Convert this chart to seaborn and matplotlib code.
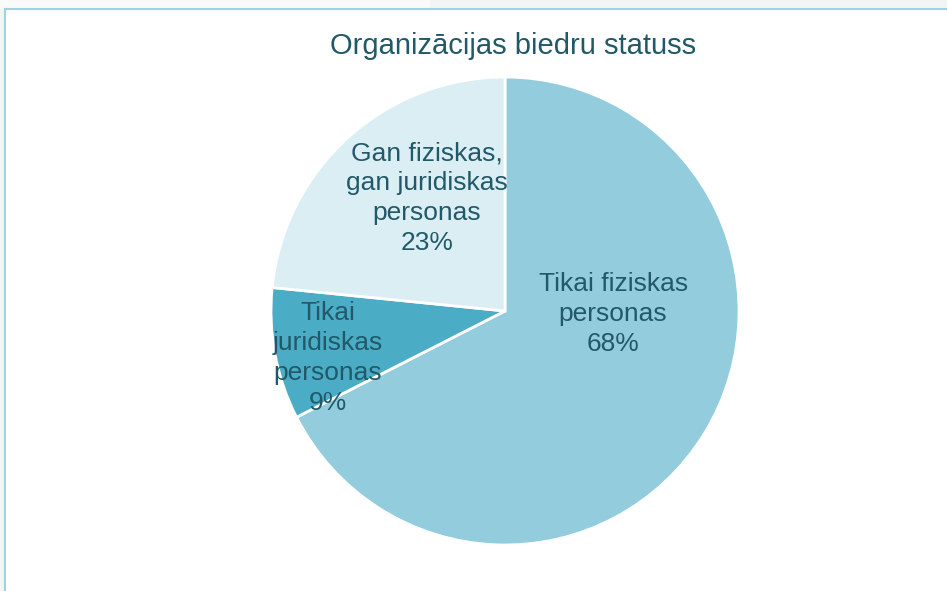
import numpy as np
import matplotlib
matplotlib.use("Agg")
import matplotlib.pyplot as plt
import seaborn as sns
from matplotlib.patches import Rectangle

# Data
labels = ["Tikai fiziskas\npersonas", "Tikai\njuridiskas\npersonas", "Gan fiziskas,\ngan juridiskas\npersonas"]
shares = [67.5, 9.1, 23.4]
shown_pct = ["68%", "9%", "23%"]
colors = ["#93CDDD", "#4BACC6", "#DBEEF4"]

sns.set_theme(style="white")
plt.rcParams["font.family"] = ["Liberation Sans", "DejaVu Sans"]

W, H = 947, 591
fig = plt.figure(figsize=(W / 100, H / 100), dpi=100)
fig.patch.set_facecolor("white")

# background / frame of the chart area
bg = fig.add_axes([0, 0, 1, 1])
bg.set_xlim(0, W)
bg.set_ylim(H, 0)
bg.axis("off")
bg.add_patch(Rectangle((0, 0), W, H, facecolor="#f3f4f4", edgecolor="none"))
bg.add_patch(Rectangle((0, 0), 430, 9, facecolor="#fafafa", edgecolor="none"))
bg.add_patch(Rectangle((5, 9), W + 20, H + 20, facecolor="white", edgecolor="#9dd3e2", linewidth=1.5))

# pie
cx, cy, r = 505, 311, 234
ax = fig.add_axes([(cx - r) / W, (H - cy - r) / H, 2 * r / W, 2 * r / H])
wedges, _ = ax.pie(shares, colors=colors, startangle=90, counterclock=False,
                   wedgeprops=dict(edgecolor="white", linewidth=2))
ax.set_xlim(-1, 1)
ax.set_ylim(-1, 1)
ax.axis("off")

# label positions (relative to radius)
pos = [(0.462, -0.013), (-0.756, -0.201), (-0.333, 0.483)]
for lab, s, (px, py) in zip(labels, shown_pct, pos):
    ax.text(px, py, f"{lab}\n{s}", ha="center", va="center", fontsize=19,
            color="#215968", linespacing=1.3, clip_on=False)

fig.text(513 / W, 1 - 46 / H, "Organizācijas biedru statuss", ha="center", va="center",
         fontsize=21, color="#215968")

fig.savefig("out.png", dpi=100)
